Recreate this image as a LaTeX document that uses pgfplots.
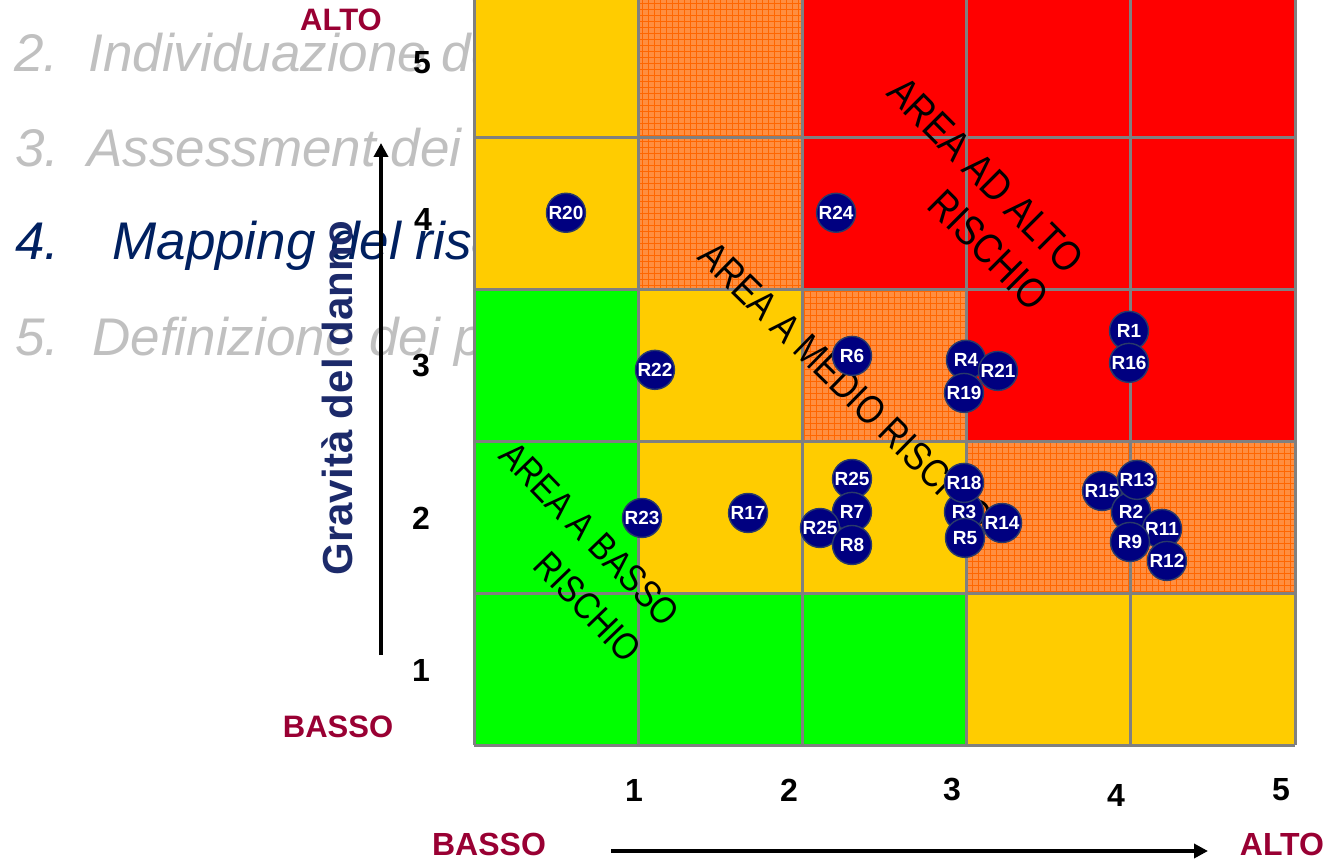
\documentclass[border=0pt]{standalone}
\usepackage{pgfplots}
\pgfplotsset{compat=1.18}
\usepackage{fontspec}
\setmainfont{Liberation Sans}
\newfontfamily\narrowfont[FakeStretch=0.85]{Liberation Sans}
\newfontfamily\narrowerfont[FakeStretch=0.84]{Liberation Sans}
\usetikzlibrary{patterns,arrows.meta}

\definecolor{cgreen}{HTML}{00FF00}
\definecolor{cyellow}{HTML}{FFCC00}
\definecolor{cred}{HTML}{FF0000}
\definecolor{chatch}{HTML}{FF8E40}
\definecolor{chatchline}{HTML}{FF6600}
\definecolor{gridgray}{HTML}{808080}
\definecolor{darkred}{HTML}{990033}
\definecolor{axisnavy}{HTML}{1C2A6A}
\definecolor{mapnavy}{HTML}{002060}
\definecolor{lightgrey}{HTML}{C0C0C0}
\definecolor{dotfill}{HTML}{000080}
\definecolor{dotedge}{HTML}{2A3A6A}

% one cell of the matrix: x0 y0 x1 y1 style
\newcommand{\cell}[5]{\addplot[draw=none, #5] coordinates {(#1,#2) (#3,#2) (#3,#4) (#1,#4)} --cycle;}

\begin{document}
\begin{tikzpicture}
\path[use as bounding box] (0,0) rectangle (663.5pt,-430.5pt);

% slide text behind the chart
\begin{scope}[x=0.5pt,y=-0.5pt, every node/.style={anchor=base west, inner sep=0pt},
  font=\itshape\fontsize{26.5}{30}\selectfont]
\node[text=lightgrey] at (14,72) {2.};
\node[text=lightgrey] at (88,72) {Individuazione dei};
\node[text=lightgrey] at (15,167) {3.};
\node[text=lightgrey] at (87,167) {Assessment dei};
\node[text=mapnavy] at (15,260) {4.};
\node[text=mapnavy] at (112,260) {Mapping del rischio};
\node[text=lightgrey] at (15,355) {5.};
\node[text=lightgrey] at (92,355) {Definizione dei p};
\end{scope}

\begin{axis}[
  at={(237pt,-372.5pt)}, anchor=south west,
  scale only axis, width=410.5pt, height=372.5pt,
  xmin=0, xmax=5, ymin=0, ymax=4.909,
  hide axis, clip=false,
  gridline/.style={draw=gridgray, line width=1.5pt},
  hatched/.style={fill=chatch, postaction={pattern=grid, pattern color=chatchline}},
]
% row 1
\cell{0}{0}{1}{1}{fill=cgreen}
\cell{1}{0}{2}{1}{fill=cgreen}
\cell{2}{0}{3}{1}{fill=cgreen}
\cell{3}{0}{4}{1}{fill=cyellow}
\cell{4}{0}{5}{1}{fill=cyellow}
% row 2
\cell{0}{1}{1}{2}{fill=cgreen}
\cell{1}{1}{2}{2}{fill=cyellow}
\cell{2}{1}{3}{2}{fill=cyellow}
\cell{3}{1}{4}{2}{hatched}
\cell{4}{1}{5}{2}{hatched}
% row 3
\cell{0}{2}{1}{3}{fill=cgreen}
\cell{1}{2}{2}{3}{fill=cyellow}
\cell{2}{2}{3}{3}{hatched}
\cell{3}{2}{4}{3}{fill=cred}
\cell{4}{2}{5}{3}{fill=cred}
% row 4
\cell{0}{3}{1}{4}{fill=cyellow}
\cell{1}{3}{2}{4}{hatched}
\cell{2}{3}{3}{4}{fill=cred}
\cell{3}{3}{4}{4}{fill=cred}
\cell{4}{3}{5}{4}{fill=cred}
% row 5 (cut at the top)
\cell{0}{4}{1}{4.909}{fill=cyellow}
\cell{1}{4}{2}{4.909}{hatched}
\cell{2}{4}{3}{4.909}{fill=cred}
\cell{3}{4}{4}{4.909}{fill=cred}
\cell{4}{4}{5}{4.909}{fill=cred}

\pgfplotsinvokeforeach{0,...,5}{
  \addplot[gridline] coordinates {(#1,0) (#1,4.909)};
}
\pgfplotsinvokeforeach{0,...,4}{
  \addplot[gridline] coordinates {(0,#1) (5,#1)};
}

% area labels
\node[font=\narrowfont\fontsize{21}{21}\selectfont, rotate=-45, inner sep=0pt]
  at (axis cs:3.118,3.756) {AREA AD ALTO};
\node[font=\narrowfont\fontsize{21}{21}\selectfont, rotate=-45, inner sep=0pt]
  at (axis cs:3.135,3.262) {RISCHIO};
\node[font=\narrowerfont\fontsize{20}{20}\selectfont, rotate=-44.4, inner sep=0pt]
  at (axis cs:2.266,2.366) {AREA A MEDIO RISCHIO};
\node[font=\narrowfont\fontsize{19}{19}\selectfont, rotate=-46, inner sep=0pt]
  at (axis cs:0.706,1.390) {AREA A BASSO};
\node[font=\narrowfont\fontsize{19}{19}\selectfont, rotate=-46, inner sep=0pt]
  at (axis cs:0.694,0.909) {RISCHIO};

% risks
\addplot[draw=none, mark=none, point meta=explicit symbolic,
  nodes near coords, nodes near coords align={center},
  nodes near coords style={anchor=center, circle, fill=dotfill, draw=dotedge,
    line width=0.7pt, minimum size=19.5pt, inner sep=0pt, text=white,
    font=\bfseries\fontsize{9.5}{9.5}\selectfont}]
  table[meta=label] {
x y label
0.560 3.507 R20
2.205 3.507 R24
1.102 2.472 R22
2.302 2.564 R6
2.996 2.538 R4
3.191 2.465 R21
2.984 2.320 R19
3.989 2.729 R1
3.989 2.518 R16
2.302 1.753 R25
2.302 1.536 R7
2.107 1.430 R25
2.302 1.318 R8
2.984 1.536 R3
2.984 1.727 R18
3.216 1.463 R14
2.990 1.365 R5
3.825 1.674 R15
4.001 1.536 R2
4.038 1.747 R13
4.190 1.424 R11
3.995 1.338 R9
4.220 1.213 R12
1.023 1.496 R23
1.669 1.529 R17
};
\end{axis}

% axis labels and arrows
\begin{scope}[x=0.5pt,y=-0.5pt, every node/.style={inner sep=0pt}]
\node[rotate=90, text=axisnavy, font=\bfseries\fontsize{21}{21}\selectfont] at (337,398) {Gravità del danno};
\draw[line width=2pt, -{Triangle[length=7pt,width=7pt]}] (381,655) -- (381,143);
\draw[line width=2pt, -{Triangle[length=7pt,width=7pt]}] (611,851) -- (1208,851);
\begin{scope}[every node/.append style={font=\bfseries\fontsize{16}{16}\selectfont}]
\node at (422,63) {5};
\node at (423,219) {4};
\node at (421,366) {3};
\node at (421,518) {2};
\node at (421,670) {1};
\node at (634,790) {1};
\node at (789,790) {2};
\node at (952,790) {3};
\node at (1116,795) {4};
\node at (1281,790) {5};
\end{scope}
\node[text=darkred, font=\bfseries\fontsize{15.5}{15.5}\selectfont] at (341,20) {ALTO};
\node[text=darkred, font=\bfseries\fontsize{15.5}{15.5}\selectfont] at (338,727) {BASSO};
\node[text=darkred, font=\bfseries\fontsize{16}{16}\selectfont] at (489,844) {BASSO};
\node[text=darkred, font=\bfseries\fontsize{16}{16}\selectfont] at (1282,844) {ALTO};
\end{scope}
\end{tikzpicture}
\end{document}
